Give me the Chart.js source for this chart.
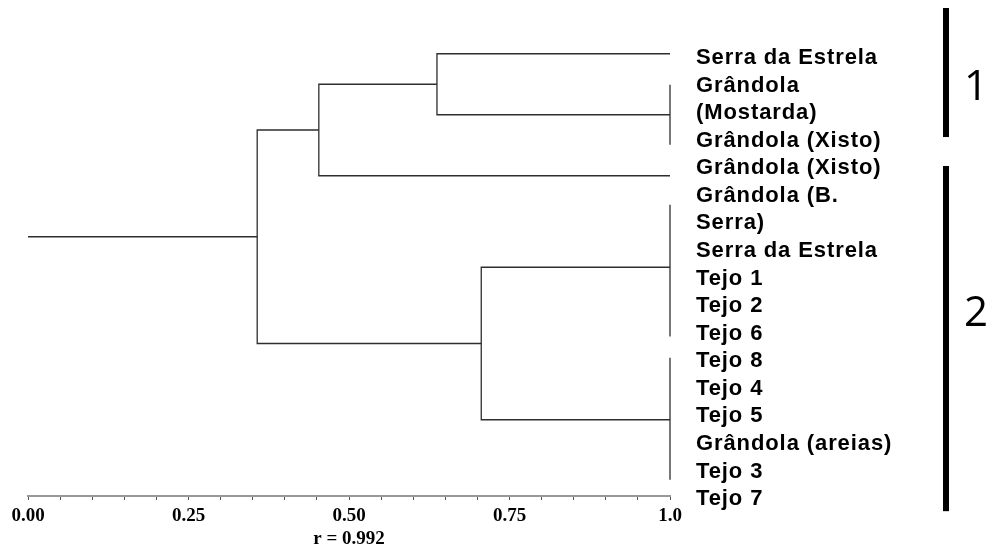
<!DOCTYPE html>
<html>
<head>
<meta charset="utf-8">
<script src="https://cdn.jsdelivr.net/npm/chart.js@4.4.1/dist/chart.umd.min.js"></script>
<style>
  html, body { margin: 0; padding: 0; background: #fff; }
  #grafico { display: block; }
</style>
</head>
<body>
<canvas id="grafico" width="992" height="552"></canvas>
<script>
// etiquetas de las hojas, una por linea de texto
const etiquetas = ['Serra da Estrela', 'Grândola', '(Mostarda)', 'Grândola (Xisto)', 'Grândola (Xisto)',
    'Grândola (B.', 'Serra)', 'Serra da Estrela', 'Tejo 1', 'Tejo 2', 'Tejo 6', 'Tejo 8', 'Tejo 4',
    'Tejo 5', 'Grândola (areias)', 'Tejo 3', 'Tejo 7']

// uniones: nivel de similitud, fila de la rama de arriba / abajo y donde empieza cada hijo
const nivel = [0.637, 0.453, 0.706, 0.357]
const ramaArriba = [0, 1, 7, 2.5]
const ramaAbajo = [2, 4, 12, 9.5]
const hijoArriba = [1, 0.637, 1, 0.453]
const hijoAbajo = [1, 1, 1, 0.706]

// hojas identicas unidas en 1.0
const grupoDesde = [1.02, 4.95, 9.97]
const grupoHasta = [2.98, 9.27, 13.97]

const raizFila = 6
const xTicks = ['0.00', '0.25', '0.50', '0.75', '1.0']

// grupos 1 y 2 a la derecha (en filas de etiquetas)
const clusters = ['1', '2']
const clusterDesde = [-1.81, 3.92]
const clusterHasta = [2.87, 16.44]
const clusterCentro = [0.98, 9.18]

const segmentos = nivel.map((x, i) => [
    { x: hijoArriba[i], y: ramaArriba[i] },
    { x, y: ramaArriba[i] },
    { x, y: ramaAbajo[i] },
    { x: hijoAbajo[i], y: ramaAbajo[i] }
])
grupoDesde.forEach((d, i) => segmentos.push([{ x: 1, y: d }, { x: 1, y: grupoHasta[i] }]))
segmentos.push([{ x: 0, y: raizFila }, { x: nivel[3], y: raizFila }])

const extras = {
    id: 'extras',
    afterDatasetsDraw(chart) {
        chart.ctx.letterSpacing = '0.9px'
    },
    afterDraw(chart) {
        const { ctx, chartArea, scales } = chart
        const y2 = scales.y2
        ctx.save()
        ctx.letterSpacing = '0px'
        ctx.fillStyle = '#000'
        clusters.forEach((c, i) => {
            const arriba = y2.getPixelForValue(clusterDesde[i])
            const abajo = y2.getPixelForValue(clusterHasta[i])
            ctx.fillRect(chartArea.right + 273, arriba, 6, abajo - arriba)
            ctx.font = '42px "Open Sans"'
            ctx.textAlign = 'center'
            ctx.textBaseline = 'alphabetic'
            ctx.fillText(c, chartArea.right + 306, y2.getPixelForValue(clusterCentro[i]) + 15)
        })
        ctx.restore()
    }
}

const config = {
    type: 'scatter',
    data: {
        datasets: segmentos.map((s) => ({
            data: s,
            showLine: true,
            pointRadius: 0,
            borderColor: '#2e2e2e',
            borderWidth: 1.3,
            tension: 0,
            clip: false
        }))
    },
    options: {
        responsive: false,
        animation: false,
        layout: { padding: { top: 8, left: 28, right: 0, bottom: 0 } },
        plugins: { legend: { display: false }, tooltip: { enabled: false } },
        scales: {
            x: {
                type: 'linear', min: 0, max: 1, position: 'bottom',
                afterBuildTicks: (s) => {
                    s.ticks = Array.from({ length: 21 }, (_, i) => ({ value: i / 20 }))
                },
                grid: { drawOnChartArea: false, drawTicks: true, tickLength: 4, color: '#555' },
                border: { display: true, color: '#999', width: 2 },
                ticks: {
                    autoSkip: false, maxRotation: 0, padding: 5, color: '#000',
                    font: { family: 'Liberation Serif', size: 19, weight: 'bold' },
                    callback: (v) => {
                        const k = Math.round(v * 4)
                        return Math.abs(v * 4 - k) < 1e-6 ? xTicks[k] : ''
                    }
                },
                title: {
                    display: true, text: 'r = 0.992', color: '#000',
                    font: { family: 'Liberation Serif', size: 19, weight: 'bold' },
                    padding: { top: 0, bottom: 2 }
                },
                afterFit: (s) => { s.height = 56; s.paddingLeft = 0; s.paddingRight = 0 }
            },
            y: { type: 'linear', min: -1.5, max: 14.5, reverse: true, display: false },
            y2: {
                type: 'linear', position: 'right', min: -1.81, max: 15.89, reverse: true,
                grid: { display: false, drawTicks: false },
                border: { display: false },
                afterBuildTicks: (s) => {
                    s.ticks = etiquetas.map((_, i) => ({ value: i }))
                },
                ticks: {
                    z: 1, padding: 26, color: '#000', autoSkip: false,
                    font: { family: 'Liberation Sans', size: 22, weight: 'bold' },
                    callback: (v) => etiquetas[v] ?? ''
                },
                afterFit: (s) => { s.width = 322; s.paddingTop = 0; s.paddingBottom = 0 }
            }
        }
    },
    plugins: [extras]
}

const chart = new Chart(document.querySelector('#grafico'), config)
</script>
</body>
</html>
